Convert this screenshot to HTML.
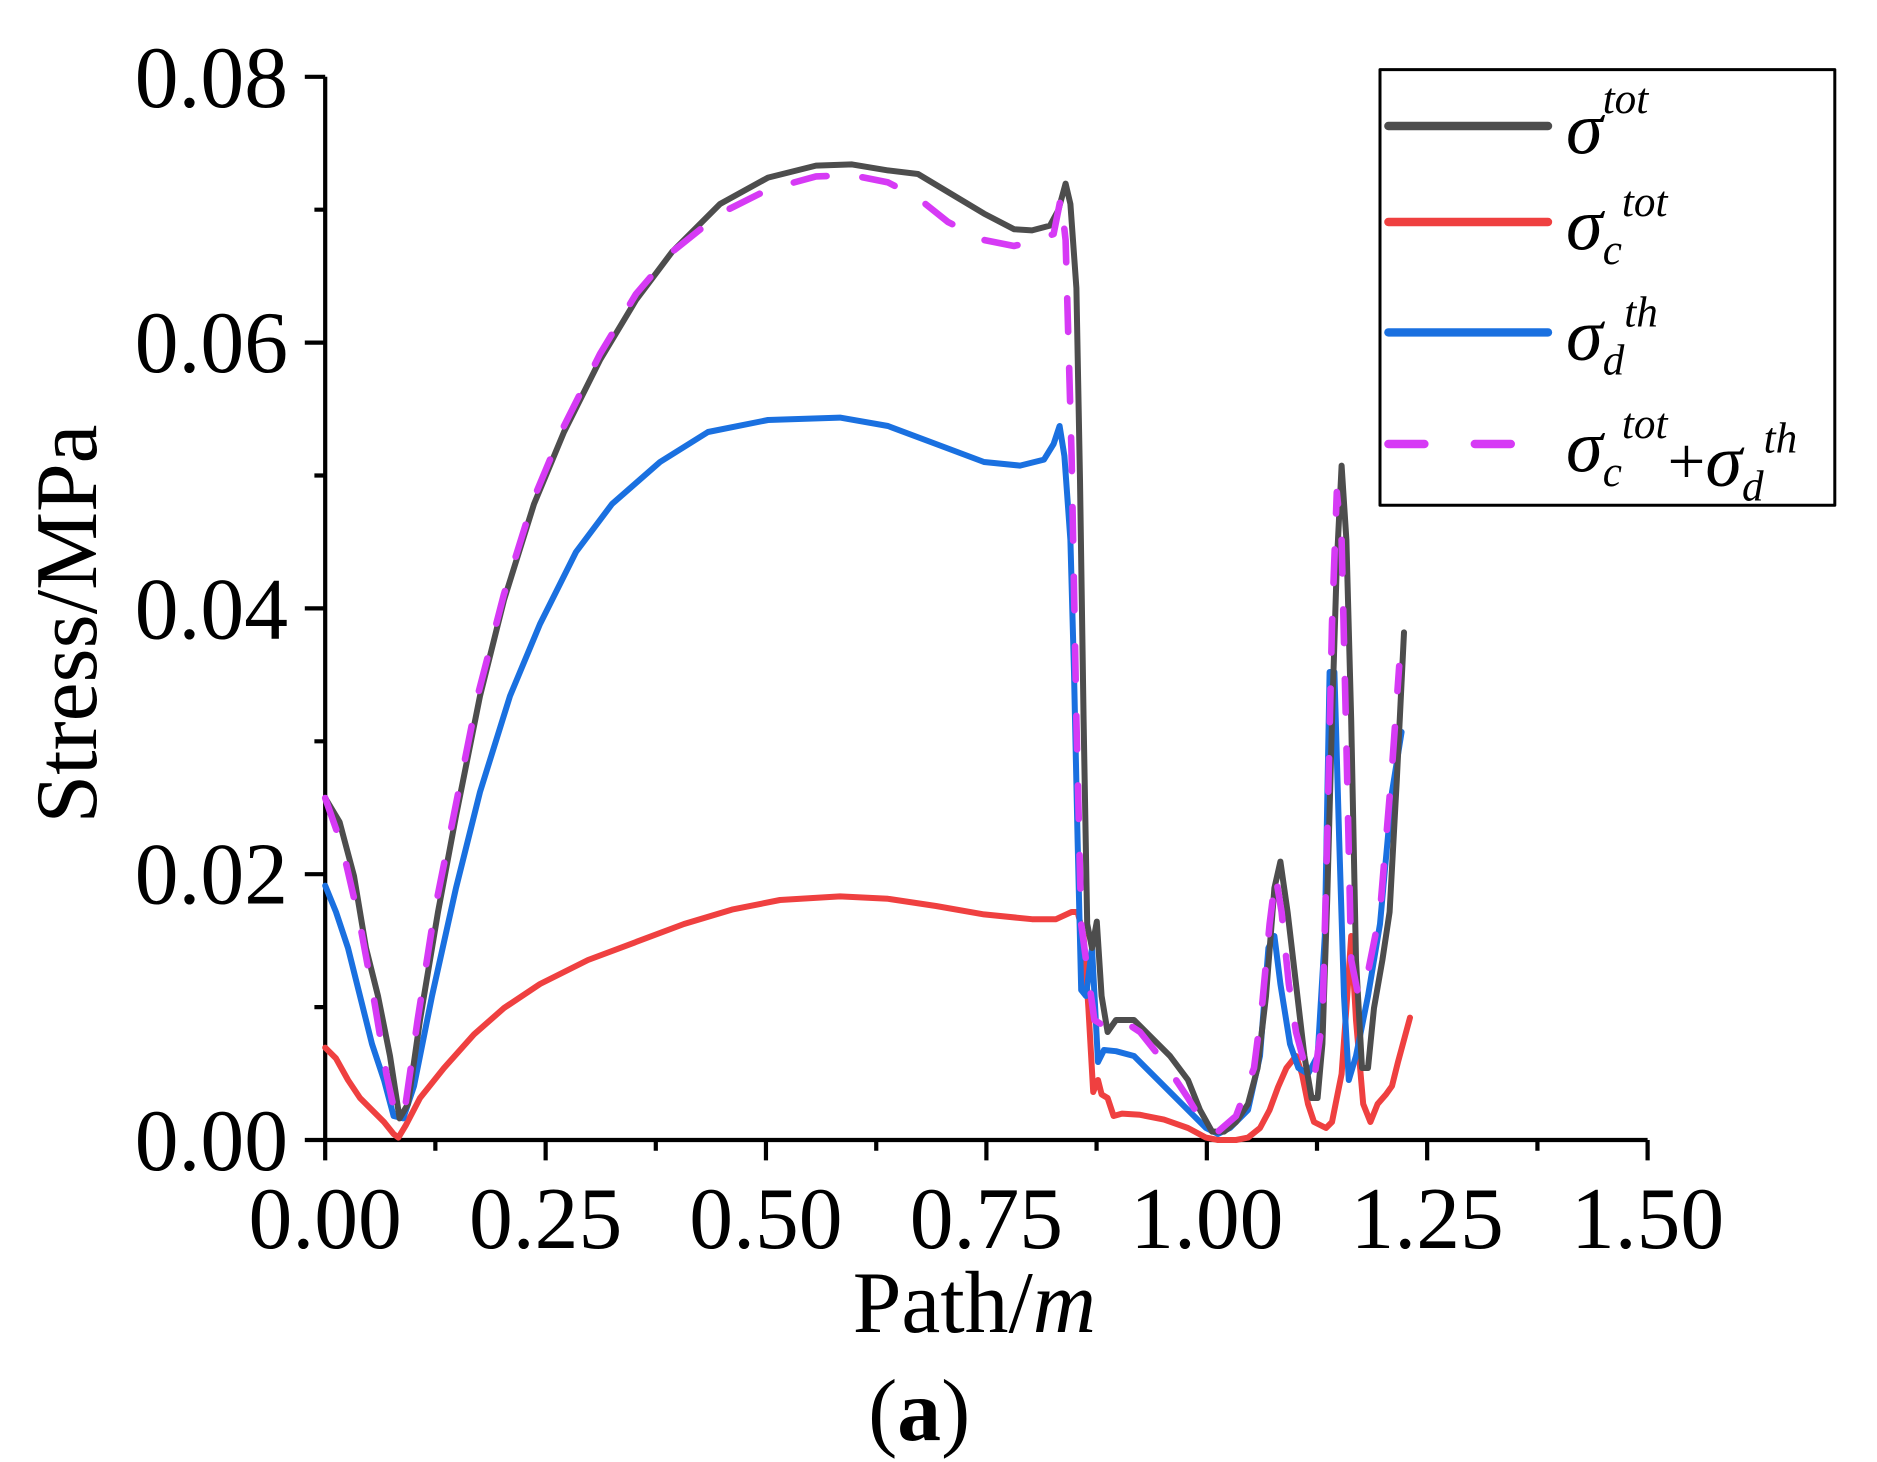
<!DOCTYPE html>
<html><head><meta charset="utf-8"><style>html,body{margin:0;padding:0;background:#fff;width:1877px;height:1462px;overflow:hidden}</style></head>
<body>
<svg width="1877" height="1462" viewBox="0 0 1877 1462" xmlns="http://www.w3.org/2000/svg">
<g transform="scale(1.2)" font-family="'Liberation Serif',serif" fill="none" stroke-linejoin="round" stroke-linecap="round">
<g stroke="#000" stroke-width="3.5" stroke-linecap="butt">
<path d="M271,64 V950 H1373"/>
<path d="M254,64H271 M254,285.5H271 M254,507H271 M254,728.5H271 M254,950H271"/>
<path d="M262,174.75H271 M262,396.25H271 M262,617.75H271 M262,839.25H271"/>
<path d="M271,950V967 M454.7,950V967 M638.3,950V967 M822,950V967 M1005.7,950V967 M1189.3,950V967 M1373,950V967"/>
<path d="M362.8,950V959 M546.5,950V959 M730.2,950V959 M913.8,950V959 M1097.5,950V959 M1281.2,950V959"/>
</g>
<g fill="#000" stroke="none" font-size="73">
<g text-anchor="end">
<text x="240" y="89">0.08</text><text x="240" y="310">0.06</text><text x="240" y="532">0.04</text><text x="240" y="753">0.02</text><text x="240" y="975">0.00</text>
</g>
<g text-anchor="middle">
<text x="271" y="1040">0.00</text><text x="454.7" y="1040">0.25</text><text x="638.3" y="1040">0.50</text><text x="822" y="1040">0.75</text><text x="1005.7" y="1040">1.00</text><text x="1189.3" y="1040">1.25</text><text x="1373" y="1040">1.50</text>
<text x="812" y="1110">Path/<tspan font-style="italic">m</tspan></text>
<text x="766" y="1200">(<tspan font-weight="bold">a</tspan>)</text>
<text transform="translate(80,520) rotate(-90)">Stress/MPa</text>
</g>
</g>
<polyline stroke="#ef4040" stroke-width="5" points="271,873 280,882 290,900 300,915 310,925 320,935 328,945 332,948 338,938 350,915 370,890 395,862 420,840 450,820 490,800 530,785 570,770 610,758 650,750 700,747 740,749 780,755 820,762 860,766 880,766 893,760 898,760 903,780 907,840 911,910 915,900 918,912 923,915 928,930 935,928 950,929 970,933 990,940 1005,948 1015,950 1030,950 1040,948 1050,940 1058,925 1065,906 1072,890 1080,880 1085,895 1090,920 1095,935 1105,940 1110,935 1118,895 1122,840 1126,780 1130,850 1136,920 1142,935 1148,920 1155,912 1160,905 1165,885 1175,848"/>
<polyline stroke="#1a70e0" stroke-width="5" points="271,738 280,760 290,790 300,830 310,870 320,900 328,930 336,932 345,905 360,830 380,740 400,660 425,580 450,520 480,460 510,420 550,385 590,360 640,350 700,348 740,355 780,370 820,385 850,388 870,383 878,370 883,355 887,380 892,450 895,560 898,700 901,825 905,830 910,790 915,885 920,875 930,876 945,880 960,895 975,910 990,925 1005,940 1015,945 1025,940 1040,925 1050,880 1057,790 1062,780 1067,820 1075,870 1082,890 1090,895 1098,880 1104,780 1108,560 1112,560 1116,700 1120,830 1124,900 1130,880 1140,830 1150,770 1160,660 1168,610"/>
<polyline stroke="#4d4d4d" stroke-width="5" points="271,665 283,685 295,730 305,790 315,830 325,880 333,932 340,920 350,850 365,760 380,680 400,580 420,500 445,420 470,360 500,300 530,250 560,210 600,170 640,148 680,138 710,137 740,142 765,145 790,160 820,178 845,191 860,192 875,188 882,175 888,153 892,170 897,240 900,400 903,600 906,770 910,790 914,768 918,830 923,860 930,850 945,850 960,865 975,880 990,900 1000,925 1010,943 1020,943 1030,935 1040,920 1048,890 1055,830 1062,740 1067,718 1073,760 1080,820 1087,880 1093,915 1098,915 1102,870 1106,750 1110,600 1114,470 1118,388 1122,450 1126,600 1130,800 1135,890 1140,890 1145,840 1152,800 1158,760 1164,650 1170,527"/>
<polyline stroke="#d63af5" stroke-width="5.5" stroke-dasharray="28,30" points="271,665 285,705 300,770 312,835 322,895 330,932 338,920 348,850 362,760 378,680 398,580 420,495 445,415 470,355 500,295 530,245 560,210 600,178 640,158 680,147 710,146 740,152 765,165 790,185 820,200 845,205 865,200 878,195 884,165 888,200 893,380 897,600 901,770 905,800 912,850 920,855 935,850 950,860 970,885 990,915 1005,940 1015,943 1030,930 1045,890 1052,835 1058,770 1063,730 1068,760 1074,820 1080,860 1088,890 1095,900 1102,850 1106,700 1110,520 1114,410 1118,450 1122,620 1126,800 1132,830 1140,810 1150,760 1160,640 1166,555"/>
<rect x="1150" y="58" width="379" height="363" stroke="#000" stroke-width="2.5" fill="#fff"/>
<g stroke-width="7">
<path d="M1157,105H1290" stroke="#4d4d4d"/>
<path d="M1157,185H1290" stroke="#ef4040"/>
<path d="M1157,277H1290" stroke="#1a70e0"/>
<path d="M1157,370H1290" stroke="#d63af5" stroke-dasharray="30,42"/>
</g>
<g fill="#000" stroke="none" font-style="italic">
<text x="1305" y="128" font-size="62">σ<tspan font-size="36" dy="-34">tot</tspan></text>
<text x="1305" y="208" font-size="62">σ<tspan font-size="36" dy="12">c</tspan><tspan font-size="36" dy="-40">tot</tspan></text>
<text x="1305" y="300" font-size="62">σ<tspan font-size="36" dy="12">d</tspan><tspan font-size="36" dy="-40">th</tspan></text>
<text x="1305" y="393" font-size="62">σ<tspan font-size="36" dy="12">c</tspan><tspan font-size="36" dy="-40">tot</tspan><tspan font-style="normal" font-size="56" dy="38">+</tspan><tspan dy="2">σ</tspan><tspan font-size="36" dy="12">d</tspan><tspan font-size="36" dy="-40">th</tspan></text>
</g>
</g>
</svg>
</body></html>
